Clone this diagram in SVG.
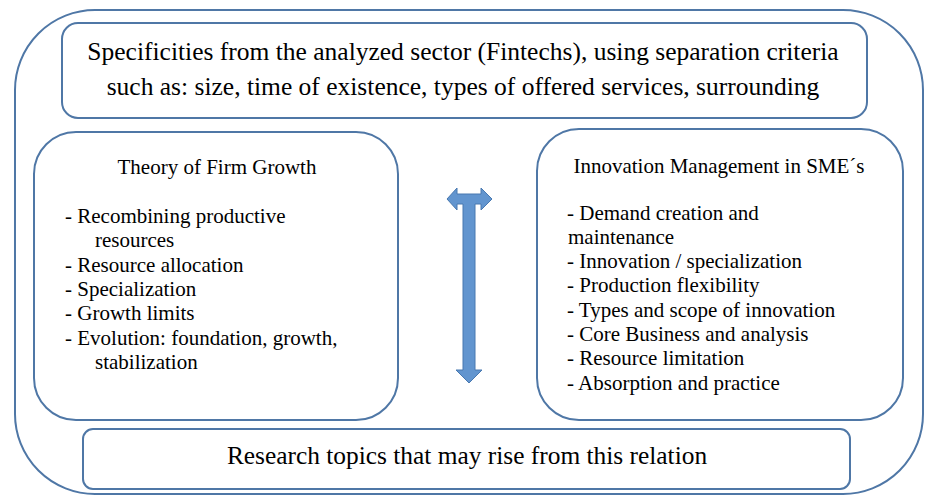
<svg xmlns="http://www.w3.org/2000/svg" width="930" height="497" viewBox="0 0 930 497">
  <style>
    .box { fill: #ffffff; stroke: #4f77a6; stroke-width: 2; }
    text { font-family: 'Liberation Serif', 'Times New Roman', 'DejaVu Serif', serif; fill: #000000; }
    .big { font-size: 25.5px; }
    .bot { font-size: 25.4px; }
    .mid { font-size: 21px; }
    .arrow { fill: #6295cf; stroke: #4878b0; stroke-width: 1; }
  </style>
  <rect width="930" height="497" fill="#ffffff"/>

  <!-- outer frame -->
  <g id="frame">
    <rect class="box" x="15" y="10" width="908" height="484" rx="80" ry="80"/>
  </g>

  <!-- sector specificities -->
  <g id="sector">
    <rect class="box" x="62" y="23" width="805" height="95" rx="16" ry="16"/>
    <text class="big" x="463" y="60" text-anchor="middle">Specificities from the analyzed sector (Fintechs), using separation criteria</text>
    <text class="big" x="463" y="95" text-anchor="middle">such as: size, time of existence, types of offered services, surrounding</text>
  </g>

  <!-- theory of firm growth -->
  <g id="firm-growth">
    <rect class="box" x="34" y="132" width="364" height="288" rx="42" ry="42"/>
    <text class="mid" x="217" y="174" text-anchor="middle">Theory of Firm Growth</text>
    <text class="mid" x="65" y="223">- Recombining productive</text>
    <text class="mid" x="95" y="247">resources</text>
    <text class="mid" x="65" y="272">- Resource allocation</text>
    <text class="mid" x="65" y="296">- Specialization</text>
    <text class="mid" x="65" y="320">- Growth limits</text>
    <text class="mid" x="65" y="345">- Evolution: foundation, growth,</text>
    <text class="mid" x="95" y="369">stabilization</text>
  </g>

  <!-- innovation management -->
  <g id="innovation">
    <rect class="box" x="537" y="129" width="366" height="291" rx="42" ry="42"/>
    <text class="mid" x="719" y="173" text-anchor="middle">Innovation Management in SME´s</text>
    <text class="mid" x="567" y="220">- Demand creation and</text>
    <text class="mid" x="568" y="244">maintenance</text>
    <text class="mid" x="567" y="268">- Innovation / specialization</text>
    <text class="mid" x="567" y="292">- Production flexibility</text>
    <text class="mid" x="567" y="317">- Types and scope of innovation</text>
    <text class="mid" x="567" y="341">- Core Business and analysis</text>
    <text class="mid" x="567" y="365">- Resource limitation</text>
    <text class="mid" x="567" y="390">- Absorption and practice</text>
  </g>

  <!-- research topics -->
  <g id="research">
    <rect class="box" x="83" y="429" width="767" height="60" rx="10" ry="10"/>
    <text class="bot" x="467" y="464" text-anchor="middle">Research topics that may rise from this relation</text>
  </g>

  <!-- connector between the two theories -->
  <g id="connectors">
    <path class="arrow" d="M447,199 L457,188 L457,194 L481,194 L481,188 L492,199 L481,210 L481,204 L475,204 L475,370 L482,370 L469,383 L456,370 L463,370 L463,204 L457,204 L457,210 Z"/>
  </g>
</svg>
